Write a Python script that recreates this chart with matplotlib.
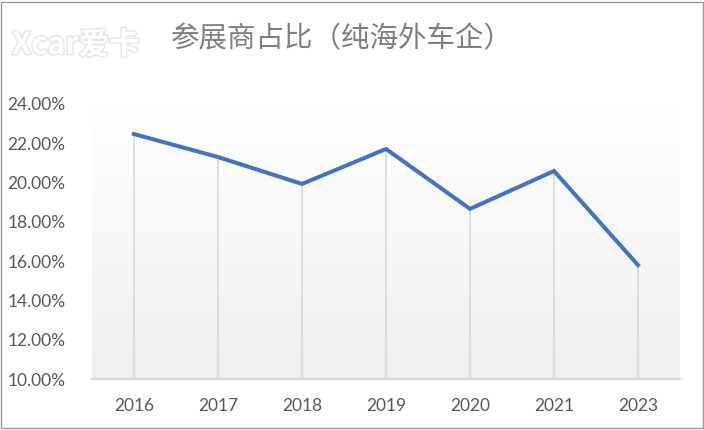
import matplotlib
matplotlib.use("Agg")
import matplotlib.pyplot as plt
import numpy as np
import matplotlib.patheffects as pe
from matplotlib.ticker import FuncFormatter

years = ["2016", "2017", "2018", "2019", "2020", "2021", "2023"]
share = [0.2247, 0.2130, 0.1993, 0.2171, 0.1866, 0.2059, 0.1580]
title = "参展商占比（纯海外车企）"

plt.rcParams['font.family'] = ['Lato', 'Noto Sans CJK SC', 'DejaVu Sans']

fig = plt.figure(figsize=(7.04, 4.30), dpi=100)
fig.patch.set_facecolor("white")
ax = fig.add_axes([92/704, 1-379/430, (680-92)/704, (379-104)/430])

x = np.arange(len(years))
ax.set_xlim(-0.5, len(years)-0.5)
ax.set_ylim(0.10, 0.24)

# gradient background
grad = np.linspace(1.0, 0.0, 256).reshape(-1, 1)
top = np.array([1.0, 1.0, 1.0])
bot = np.array([0.94, 0.94, 0.94])
img = top[None, None, :] * grad[:, :, None] + bot[None, None, :] * (1 - grad[:, :, None])
ax.imshow(img, extent=[-0.5, len(years)-0.5, 0.10, 0.24], aspect='auto', zorder=0)

# drop lines
ax.vlines(x, 0.10, share, colors="#d9d9d9", linewidth=1.2, zorder=1)
ax.plot(x, share, color="#4472C4", linewidth=2.9, solid_joinstyle='miter', zorder=3)

ax.set_xticks(x)
ax.set_xticklabels(years)
ax.set_yticks(np.arange(0.10, 0.2401, 0.02))
ax.yaxis.set_major_formatter(FuncFormatter(lambda v, p: f"{v*100:.2f}%"))
ax.tick_params(axis='both', length=0, labelsize=12.5, labelcolor="#595959")
ax.tick_params(axis='y', pad=19)
ax.tick_params(axis='x', pad=14)
for s in ["top", "right", "left"]:
    ax.spines[s].set_visible(False)
ax.spines["bottom"].set_color("#d9d9d9")
ax.spines["bottom"].set_linewidth(1.5)

fig.text(342/704, 1-39/430, title, ha='center', va='center', fontsize=20.5,
         color="#7f7f7f", family=['Noto Sans CJK SC', 'DejaVu Sans'])

# watermark
fig.text(12/704, 1-45/430, "Xcar爱卡", ha='left', va='center', fontsize=22,
         color="white", style='italic', fontweight='bold',
         family=['Noto Sans CJK SC', 'DejaVu Sans'],
         path_effects=[pe.withStroke(linewidth=2, foreground="#e6e6e6")], zorder=0)

# frame
fig.add_artist(plt.Rectangle((0.002, 0.004), 0.996, 0.992, transform=fig.transFigure,
                             fill=False, edgecolor="#9a9a9a", linewidth=1))

fig.savefig("out.png", dpi=100)
